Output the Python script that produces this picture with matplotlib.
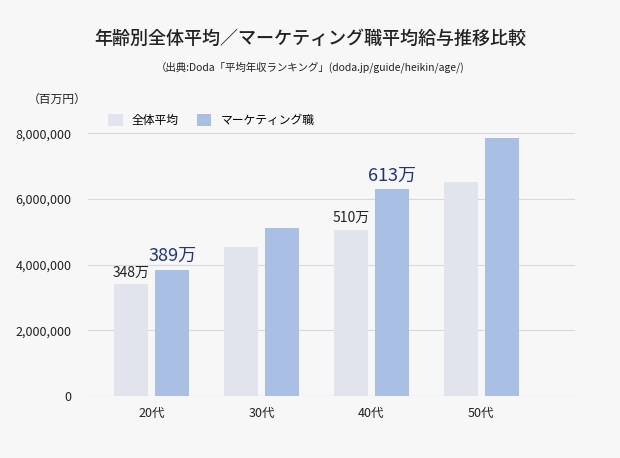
import matplotlib
matplotlib.use('Agg')
import matplotlib.pyplot as plt
from matplotlib.ticker import FuncFormatter
import numpy as np

plt.rcParams['font.family'] = 'Noto Sans CJK JP'

# --- data ---
ages = ['20代', '30代', '40代', '50代']
overall = [3400000, 4530000, 5050000, 6500000]
marketing = [3830000, 5110000, 6290000, 7840000]
overall_labels = {0: '348万', 2: '510万'}
marketing_labels = {0: '389万', 2: '613万'}

BG = '#f7f7f7'
GRAY = '#e1e4ec'
BLUE = '#a9bfe4'
NAVY = '#1f3380'

fig = plt.figure(figsize=(6.2, 4.58), dpi=100, facecolor=BG)
ax = fig.add_axes([0.142, 0.135, 0.785, 0.603], facecolor=BG)

x = np.arange(len(ages))
w = 0.31
off = 0.185
ax.bar(x - off, overall, w, color=GRAY, zorder=2, label='全体平均')
ax.bar(x + off, marketing, w, color=BLUE, zorder=2, label='マーケティング職')

for i, t in overall_labels.items():
    ax.text(x[i] - off, overall[i] + 150000, t, ha='center', va='bottom',
            fontsize=10, color='#222222')
for i, t in marketing_labels.items():
    ax.text(x[i] + off, marketing[i] + 150000, t, ha='center', va='bottom',
            fontsize=13, color=NAVY)

ax.set_xlim(-0.58, 3.85)
ax.set_ylim(0, 8400000)
ax.set_yticks([0, 2000000, 4000000, 6000000, 8000000])
ax.yaxis.set_major_formatter(FuncFormatter(lambda v, p: f'{int(v):,}'))
ax.set_xticks(x)
ax.set_xticklabels(ages)
ax.tick_params(length=0, labelsize=9, colors='#222222')
ax.tick_params(axis='y', pad=12)
ax.tick_params(axis='x', pad=8)
ax.grid(axis='y', color='#d8d8d8', linewidth=0.8, zorder=0)
for s in ax.spines.values():
    s.set_visible(False)
ax.axhline(0, color='#cccccc', linewidth=0.8, zorder=3)

fig.text(0.5, 0.905, '年齢別全体平均／マーケティング職平均給与推移比較',
         ha='center', fontsize=13, fontweight='medium', color='#222222')
fig.text(0.5, 0.845, '（出典:Doda「平均年収ランキング」(doda.jp/guide/heikin/age/)',
         ha='center', fontsize=7.5, color='#222222')
fig.text(0.045, 0.775, '（百万円）', fontsize=8.5, color='#222222')
ax.legend(loc='upper left', bbox_to_anchor=(0.02, 1.06), ncol=2, frameon=False,
          fontsize=8.5, handlelength=1.2, handleheight=1.2, columnspacing=1.5)

fig.savefig('out.png', facecolor=BG)
